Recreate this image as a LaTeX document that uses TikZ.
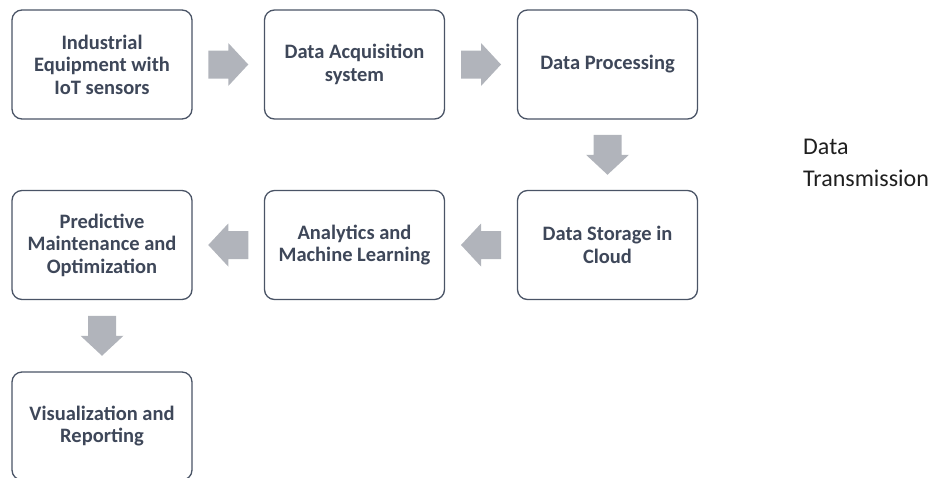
\documentclass[tikz,border=0pt]{standalone}
\usepackage{fontspec}
\setmainfont{Carlito}
\usetikzlibrary{calc}
\definecolor{boxline}{HTML}{4A5466}
\definecolor{boxtext}{HTML}{3E4759}
\definecolor{arrowfill}{HTML}{B1B4BB}
\begin{document}
\begin{tikzpicture}[x=1pt,y=-1pt,
  stage/.style={draw=boxline, line width=1.3pt, rounded corners=10pt, fill=white,
    minimum width=180pt, minimum height=109pt, inner sep=0pt, align=center,
    text=boxtext, font=\fontsize{20.5}{22.5}\selectfont\bfseries},
  blockarrow/.style={fill=arrowfill, draw=none}]
\useasboundingbox (0,0) rectangle (939,477);
% first row, left to right
\node[stage] (equip) at (102,64.5) {Industrial\\Equipment with\\IoT sensors};
\node[stage] (acq)   at (354.5,64.5) {Data Acquisition\\system};
\node[stage] (proc)  at (607.5,64.5) {Data Processing};
% second row, right to left
\node[stage] (store) at (607.5,245) {Data Storage in\\Cloud};
\node[stage] (ml)    at (354.5,245) {Analytics and\\Machine Learning};
\node[stage] (pred)  at (102,245) {Predictive\\Maintenance and\\Optimization};
% last stage
\node[stage, minimum height=108pt] (vis) at (102,426) {Visualization and\\Reporting};
% centres of the gaps between stages
\coordinate (g1) at ($(equip.east)!0.5!(acq.west)$);
\coordinate (g2) at ($(acq.east)!0.5!(proc.west)$);
\coordinate (g3) at ($(proc.south)!0.5!(store.north)$);
\coordinate (g4) at ($(store.west)!0.5!(ml.east)$);
\coordinate (g5) at ($(ml.west)!0.5!(pred.east)$);
\coordinate (g6) at ($(pred.south)!0.5!(vis.north)$);
% block arrows, drawn pointing right and turned into place
\foreach \g/\r in {g1/0, g2/0, g3/-90, g4/180, g5/180, g6/-90}{
  \path[blockarrow, shift={(\g)}, rotate=\r]
    (-20,-14) -- (0,-14) -- (0,-21.5) -- (20,0) -- (0,21.5) -- (0,14) -- (-20,14) -- cycle;
}
% side label (base anchor sits on the last line)
\node[anchor=base west, align=left, text=black!88, inner sep=0pt,
  font=\fontsize{24}{32}\selectfont] (tx) at (803,186) {Data\\Transmission};
\end{tikzpicture}
\end{document}
